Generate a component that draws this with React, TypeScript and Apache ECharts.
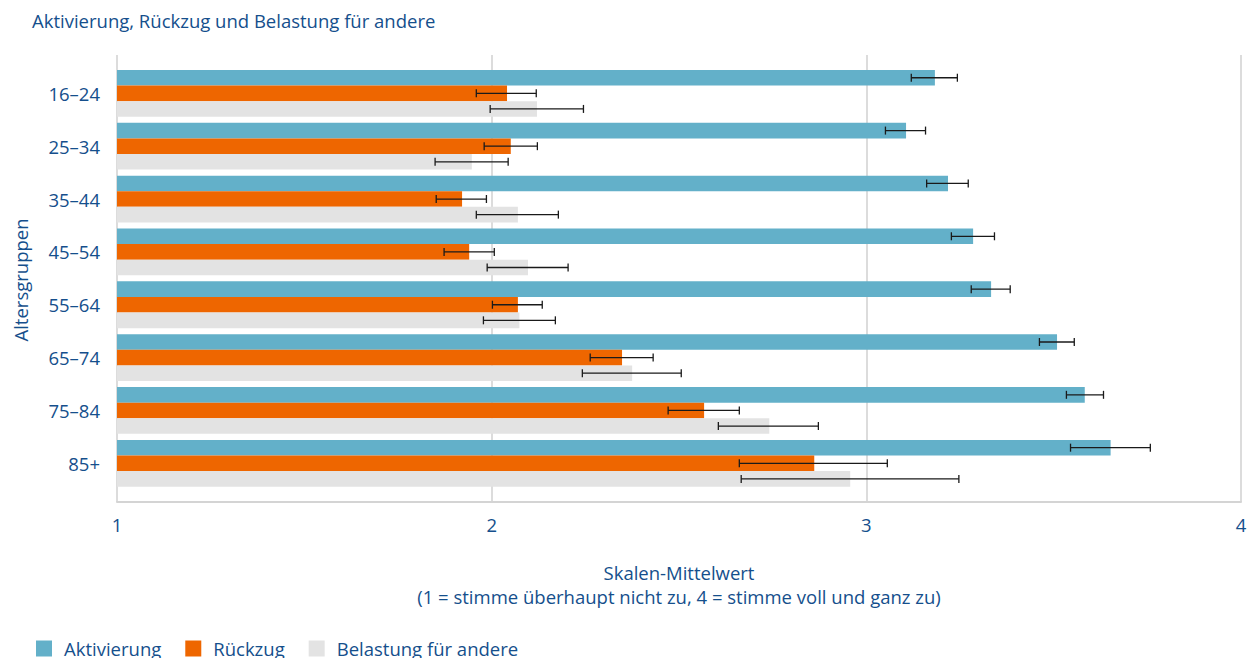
import React, { useEffect, useRef } from "react";
import * as echarts from "echarts";

const categories = ["16–24", "25–34", "35–44", "45–54", "55–64", "65–74", "75–84", "85+"];
const seriesNames = ["Aktivierung", "Rückzug", "Belastung für andere"];
const aktivierung = [3.183, 3.106, 3.218, 3.285, 3.333, 3.509, 3.583, 3.652];
const aktivierungLo = [3.12, 3.051, 3.161, 3.227, 3.28, 3.462, 3.534, 3.545];
const aktivierungHi = [3.243, 3.158, 3.272, 3.342, 3.384, 3.555, 3.633, 3.758];
const rueckzug = [2.041, 2.051, 1.921, 1.94, 2.07, 2.348, 2.567, 2.861];
const rueckzugLo = [1.959, 1.98, 1.852, 1.873, 2.002, 2.263, 2.471, 2.661];
const rueckzugHi = [2.119, 2.122, 1.986, 2.007, 2.135, 2.431, 2.661, 3.056];
const belastung = [2.121, 1.947, 2.07, 2.097, 2.074, 2.375, 2.741, 2.957];
const belastungLo = [1.996, 1.849, 1.959, 1.988, 1.978, 2.242, 2.605, 2.666];
const belastungHi = [2.245, 2.044, 2.178, 2.204, 2.17, 2.506, 2.872, 3.247];
const xTicks = [1, 2, 3, 4];

const colors = ["#63b0c9", "#ee6600", "#e3e3e3"];
const textColor = "#154f8c";
const font = "'Open Sans', 'Noto Sans', sans-serif";
const fs = 18.5;

export default function App() {
  const ref = useRef<HTMLDivElement>(null);
  useEffect(() => {
    document.body.style.margin = "0";
    if (!ref.current) return;
    const chart = echarts.init(ref.current, null, { renderer: "svg" });
    const left = 117;
    const right = 1251 - 1241;
    const barW = 15.6;
    const values = [aktivierung, rueckzug, belastung];
    const los = [aktivierungLo, rueckzugLo, belastungLo];
    const his = [aktivierungHi, rueckzugHi, belastungHi];

    const barSeries = values.map((v, i) => ({
      name: seriesNames[i],
      type: "bar",
      xAxisIndex: 1,
      yAxisIndex: 1,
      data: v,
      barWidth: barW,
      barGap: "0%",
      itemStyle: { color: colors[i] },
      clip: true,
      z: 2,
    }));

    const errSeries = values.map((_, i) => ({
      name: "err" + i,
      type: "custom",
      xAxisIndex: 1,
      yAxisIndex: 1,
      z: 5,
      data: categories.map((_c, k) => [los[i][k], his[i][k], k]),
      encode: { x: [0, 1], y: 2 },
      renderItem: (params: any, api: any) => {
        const lo = api.value(0);
        const hi = api.value(1);
        const k = api.value(2);
        const p1 = api.coord([lo, k]);
        const p2 = api.coord([hi, k]);
        const dy = (i - 1) * barW;
        const y = p1[1] + dy;
        const cap = 4;
        const st = { stroke: "#1a1a1a", lineWidth: 1.3 };
        return {
          type: "group",
          children: [
            { type: "line", shape: { x1: p1[0], y1: y, x2: p2[0], y2: y }, style: st },
            { type: "line", shape: { x1: p1[0], y1: y - cap, x2: p1[0], y2: y + cap }, style: st },
            { type: "line", shape: { x1: p2[0], y1: y - cap, x2: p2[0], y2: y + cap }, style: st },
          ],
        };
      },
    }));

    const option: any = {
      animation: false,
      textStyle: { fontFamily: font },
      grid: [
        { left, right, top: 55, bottom: 658 - 502 },
        { left, right, top: 66.9, height: 422.8 },
      ],
      xAxis: [
        {
          type: "value",
          gridIndex: 0,
          min: xTicks[0],
          max: xTicks[xTicks.length - 1],
          interval: 1,
          axisLine: { show: true, lineStyle: { color: "#d4d4d4", width: 2 } },
          axisTick: { show: false },
          splitLine: { show: true, lineStyle: { color: "#dcdcdc", width: 2 } },
          axisLabel: { color: textColor, fontSize: fs, margin: 13, fontFamily: font },
        },
        {
          type: "value",
          gridIndex: 1,
          min: 1,
          max: 4,
          show: false,
          splitLine: { show: false },
        },
      ],
      yAxis: [
        { type: "value", gridIndex: 0, show: false, splitLine: { show: false } },
        {
          type: "category",
          gridIndex: 1,
          data: categories,
          inverse: true,
          axisLine: { show: false },
          axisTick: { show: false },
          axisLabel: { color: textColor, fontSize: fs, margin: 17, fontFamily: font },
        },
      ],
      legend: {
        data: seriesNames,
        left: 31,
        top: 634,
        icon: "rect",
        itemWidth: 16,
        itemHeight: 16,
        itemGap: 24,
        textStyle: { color: textColor, fontSize: fs, fontFamily: font, padding: [0, 0, 0, 7] },
      },
      graphic: [
        {
          type: "text",
          x: 32,
          y: 20,
          style: { text: "Aktivierung, Rückzug und Belastung für andere", fill: textColor, font: `${fs}px ${font}`, verticalAlign: "middle", align: "left" },
        },
        {
          type: "text",
          x: 20,
          y: 280,
          rotation: Math.PI / 2,
          style: { text: "Altersgruppen", fill: textColor, font: `${fs}px ${font}`, verticalAlign: "middle", align: "center" },
        },
        {
          type: "text",
          x: 679,
          y: 572,
          style: { text: "Skalen-Mittelwert", fill: textColor, font: `${fs}px ${font}`, verticalAlign: "middle", align: "center" },
        },
        {
          type: "text",
          x: 679,
          y: 596,
          style: { text: "(1 = stimme überhaupt nicht zu, 4 = stimme voll und ganz zu)", fill: textColor, font: `${fs}px ${font}`, verticalAlign: "middle", align: "center" },
        },
      ],
      series: [...barSeries, ...errSeries],
    };
    chart.setOption(option);
    return () => chart.dispose();
  }, []);
  return <div ref={ref} style={{ position: "absolute", left: 0, top: 0, width: 1251, height: 658 }} />;
}
